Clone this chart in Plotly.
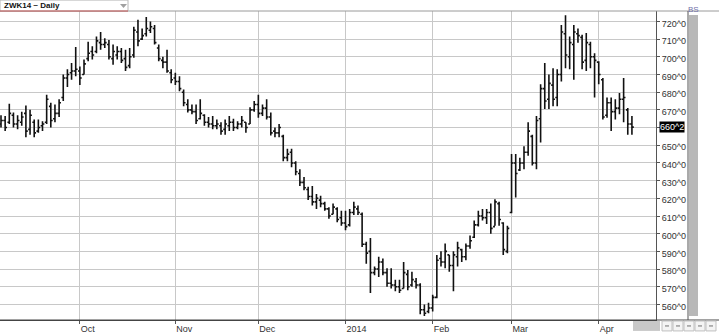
import plotly.graph_objects as go

# ---- data (ZWK14 daily) ----
highs = [667, 666.5, 673.5, 668.5, 667, 669, 672.5, 670, 664.5, 664.5,
         663.5, 678.5, 674, 673, 676, 690, 693, 696.5, 705.5, 694.5,
         698.5, 708.5, 706, 711.5, 714, 710.5, 709.5, 707, 706, 705,
         704, 705, 717, 721, 716, 722.5, 720, 718, 707, 700,
         704, 693, 691, 689, 681.5, 676, 673, 673, 676, 667.5,
         666, 666.5, 664.5, 663, 664.5, 666.5, 665, 663.5, 666.5, 663,
         671.5, 675, 678.5, 673, 676, 668.5, 660, 662, 656, 648,
         648, 641, 636.5, 632, 626.5, 627, 622.5, 621.5, 618, 615,
         617, 615, 613, 613, 614, 618, 616, 612, 595.5, 597.5,
         581.5, 587, 586, 580.5, 580.5, 574, 574, 584, 579.5, 578.5,
         575, 572, 560, 561, 565.5, 588, 590, 594.5, 588, 590,
         595.5, 591.5, 594.5, 599, 607.5, 613, 614, 614, 617, 619.5,
         618, 606.5, 604.5, 645, 645, 643, 649.5, 663, 656, 666.5,
         684.5, 696.5, 690, 693.5, 693, 718, 723.5, 711.5, 718, 716,
         712.5, 713.5, 708.5, 702, 697.5, 688, 677, 677, 676, 679.5,
         688, 671, 666.5]
lows = [660, 658, 662, 660, 659, 661, 654.5, 656, 654.5, 657,
        658, 662, 660, 663, 666, 675, 683, 687, 689, 684,
        690, 697.5, 698.5, 702, 704, 705, 698.5, 695.5, 698.5, 696.5,
        692, 693.5, 699.5, 706, 709.5, 711.5, 713.5, 707, 697.5, 693.5,
        691, 685, 684, 680.5, 672, 668.5, 667.5, 662, 664.5, 661,
        660, 659, 659, 656, 656, 658, 658, 659, 660, 657,
        662, 669, 665.5, 666.5, 664.5, 655.5, 654.5, 654.5, 641, 641,
        637.5, 633, 627, 624.5, 619, 616, 614, 615, 613, 608.5,
        611, 606.5, 604.5, 602, 604, 610.5, 610.5, 592.5, 583, 566.5,
        576.5, 575.5, 576.5, 570, 569, 567.5, 566.5, 569, 568, 570,
        569, 554.5, 553.5, 555, 556, 563.5, 581.5, 580.5, 578.5, 567.5,
        581.5, 584, 585, 591.5, 597.5, 604, 607.5, 605.5, 600, 604.5,
        604.5, 588, 589, 611.5, 620.5, 635.5, 636.5, 644, 638.5, 636.5,
        651.5, 670.5, 670.5, 672, 672, 686, 693.5, 693, 687, 708,
        693, 692, 693.5, 677, 684.5, 664.5, 665.5, 658, 664.5, 667.5,
        663, 656, 656]
opens = [662, 664, 663, 667, 662, 663, 668, 659, 663, 658,
         661, 663, 672, 665, 668, 677, 688, 691, 692, 692,
         690, 699, 703, 703, 708, 707, 707, 699, 701, 703,
         699, 695, 701, 714, 710, 713, 715, 716, 705, 698,
         697, 691, 688, 686, 680, 673, 670, 669, 665, 667,
         663, 662, 661, 661, 659, 661, 663, 660, 662, 663,
         662, 670, 673, 668, 671, 666, 658, 657, 655, 643,
         646, 640, 634, 629, 625, 621, 618, 619, 617, 614,
         611, 614, 609, 606, 605, 612, 614, 611, 594, 590,
         578, 580, 584, 578, 572, 571, 570, 569, 577, 571,
         573, 571, 557, 556, 558, 564, 586, 584, 588, 582,
         587, 591, 587, 593, 598, 605, 610, 609, 612, 604,
         617, 606, 590, 612, 640, 636, 640, 646, 655, 640,
         665, 682, 676, 684, 677, 690, 713, 700, 707, 713,
         711, 698, 707, 700, 697, 687, 667, 674, 669, 671,
         676, 670, 662]
closes = [664, 660, 668, 662, 664, 666, 658, 667, 657, 660,
          662, 676, 664, 668, 674, 688, 690, 692, 693, 688,
          696, 702, 701, 709, 707, 708, 700, 703, 703, 698,
          694, 700, 715, 709, 712, 716, 717, 708, 699, 697,
          692, 687, 686, 682, 674, 670, 669, 664, 668, 663,
          662, 661, 662, 658, 662, 663, 660, 662, 664, 660,
          670, 673, 668, 671, 666, 657, 657, 660, 643, 645,
          640, 635, 629, 626, 621, 618, 620, 617, 614, 610,
          615, 608, 606, 604, 612, 615, 612, 594, 589, 578,
          580, 584, 578, 572, 571, 570, 568, 578, 570, 574,
          571, 557, 555, 558, 564, 585, 584, 590, 582, 588,
          592, 587, 593, 596, 605, 610, 609, 612, 603, 618,
          608, 591, 603, 640, 634, 640, 646, 658, 640, 664,
          682, 675, 685, 676, 690, 714, 701, 708, 714, 712,
          697, 708, 700, 698, 690, 666, 674, 669, 671, 676,
          677, 662, 660.25]
bar_index = list(range(len(highs)))

month_pos = [19, 42, 62, 83, 104, 123, 144]
month_labels = ["Oct", "Nov", "Dec", "2014", "Feb", "Mar", "Apr"]
price_ticks = list(range(560, 721, 10))
last_label = "660^2"
last_value = 660.25
# the 660 label is covered by the last-price marker in the reference
price_labels = ["" if v == 660 else f"{v}^0" for v in price_ticks]

W, H = 719, 334
L, R, T, B = 0, 656, 11, 322   # plot area in px


def px(x):
    return (x - L) / (R - L)


def py(y):
    return (B - y) / (B - T)


fig = go.Figure()
fig.add_trace(go.Ohlc(
    x=bar_index, open=opens, high=highs, low=lows, close=closes,
    increasing=dict(line=dict(color="#111111", width=1.6)),
    decreasing=dict(line=dict(color="#111111", width=1.6)),
    tickwidth=0.45, hoverinfo="skip", showlegend=False,
))

font = "Liberation Sans, Arial, sans-serif"
fig.update_layout(
    width=W, height=H,
    margin=dict(l=L, r=W - R, t=T, b=H - B, pad=0),
    paper_bgcolor="white", plot_bgcolor="white",
    showlegend=False,
    xaxis=dict(
        range=[-0.24, 157.8], rangeslider=dict(visible=False),
        tickmode="array", tickvals=month_pos, ticktext=month_labels,
        ticklabelposition="outside right",
        ticks="outside", ticklen=3, tickcolor="#555555",
        showgrid=True, gridcolor="#c8c8c8", gridwidth=1,
        showline=True, linecolor="#444444", linewidth=1,
        zeroline=False, fixedrange=True,
        tickfont=dict(family=font, size=9, color="#333333"),
    ),
    yaxis=dict(
        side="right", range=[551.2, 725.9],
        tickmode="array", tickvals=price_ticks, ticktext=price_labels,
        ticks="outside", ticklen=3, tickcolor="#555555",
        ticklabelshift=2,
        showgrid=True, gridcolor="#c8c8c8", gridwidth=1,
        showline=True, linecolor="#555555", linewidth=1,
        zeroline=False, fixedrange=True,
        tickfont=dict(family=font, size=9, color="#333333"),
    ),
)

shapes = []
# top border line
shapes.append(dict(type="line", xref="paper", yref="paper",
                   x0=px(0), x1=px(719), y0=py(11), y1=py(11),
                   line=dict(color="#9a9a9a", width=1)))
# bottom line across full width
shapes.append(dict(type="line", xref="paper", yref="paper",
                   x0=px(0), x1=px(719), y0=py(322), y1=py(322),
                   line=dict(color="#444444", width=1)))
# divider right of price labels
shapes.append(dict(type="line", xref="paper", yref="paper",
                   x0=px(688), x1=px(688), y0=py(11), y1=py(322),
                   line=dict(color="#555555", width=1)))
# gray scroll bar
shapes.append(dict(type="rect", xref="paper", yref="paper",
                   x0=px(689), x1=px(698), y0=py(318), y1=py(15),
                   fillcolor="#b8b8b8", line=dict(width=0)))
# title box
shapes.append(dict(type="rect", xref="paper", yref="paper",
                   x0=px(0), x1=px(128), y0=py(11), y1=py(0),
                   fillcolor="white", line=dict(color="#b8b8b8", width=1)))
shapes.append(dict(type="line", xref="paper", yref="paper",
                   x0=px(0), x1=px(128), y0=py(11), y1=py(11),
                   line=dict(color="#c05050", width=1)))
# dropdown triangle
tx0, ty0 = px(120), py(4)
tx1, ty1 = px(127), py(4)
tx2, ty2 = px(123.5), py(8)
shapes.append(dict(type="path", xref="paper", yref="paper",
                   path=f"M {tx0} {ty0} L {tx1} {ty1} L {tx2} {ty2} Z",
                   fillcolor="#a0a0a0", line=dict(width=0)))
# bottom scroll block
shapes.append(dict(type="rect", xref="paper", yref="paper",
                   x0=px(633), x1=px(660), y0=py(333), y1=py(323),
                   fillcolor="#c8c8c8", line=dict(width=0)))
# bottom-right buttons
for bx in [662, 673, 684, 695, 706]:
    shapes.append(dict(type="rect", xref="paper", yref="paper",
                       x0=px(bx), x1=px(bx + 10), y0=py(333), y1=py(323),
                       fillcolor="#f4f4f4", line=dict(color="#c0c0c0", width=1)))
    shapes.append(dict(type="line", xref="paper", yref="paper",
                       x0=px(bx + 3), x1=px(bx + 7), y0=py(328), y1=py(328),
                       line=dict(color="#707070", width=1)))
fig.update_layout(shapes=shapes)

annotations = [
    dict(xref="paper", yref="paper", x=px(2), y=py(5.5), xanchor="left",
         yanchor="middle", text="<b>ZWK14 ~ Daily</b>", showarrow=False,
         font=dict(family=font, size=8, color="#111111")),
    dict(xref="paper", yref="paper", x=px(693), y=py(9.5), xanchor="center",
         yanchor="middle", text="BS", showarrow=False,
         font=dict(family=font, size=8, color="#7070a8")),
    dict(xref="paper", yref="y", x=1, xshift=3, y=last_value, xanchor="left",
         yanchor="middle", text=last_label, showarrow=False,
         bgcolor="black", borderpad=0,
         font=dict(family=font, size=9, color="white")),
]
fig.update_layout(annotations=annotations)

fig.write_html("out.html", config={"displayModeBar": False, "staticPlot": True})
